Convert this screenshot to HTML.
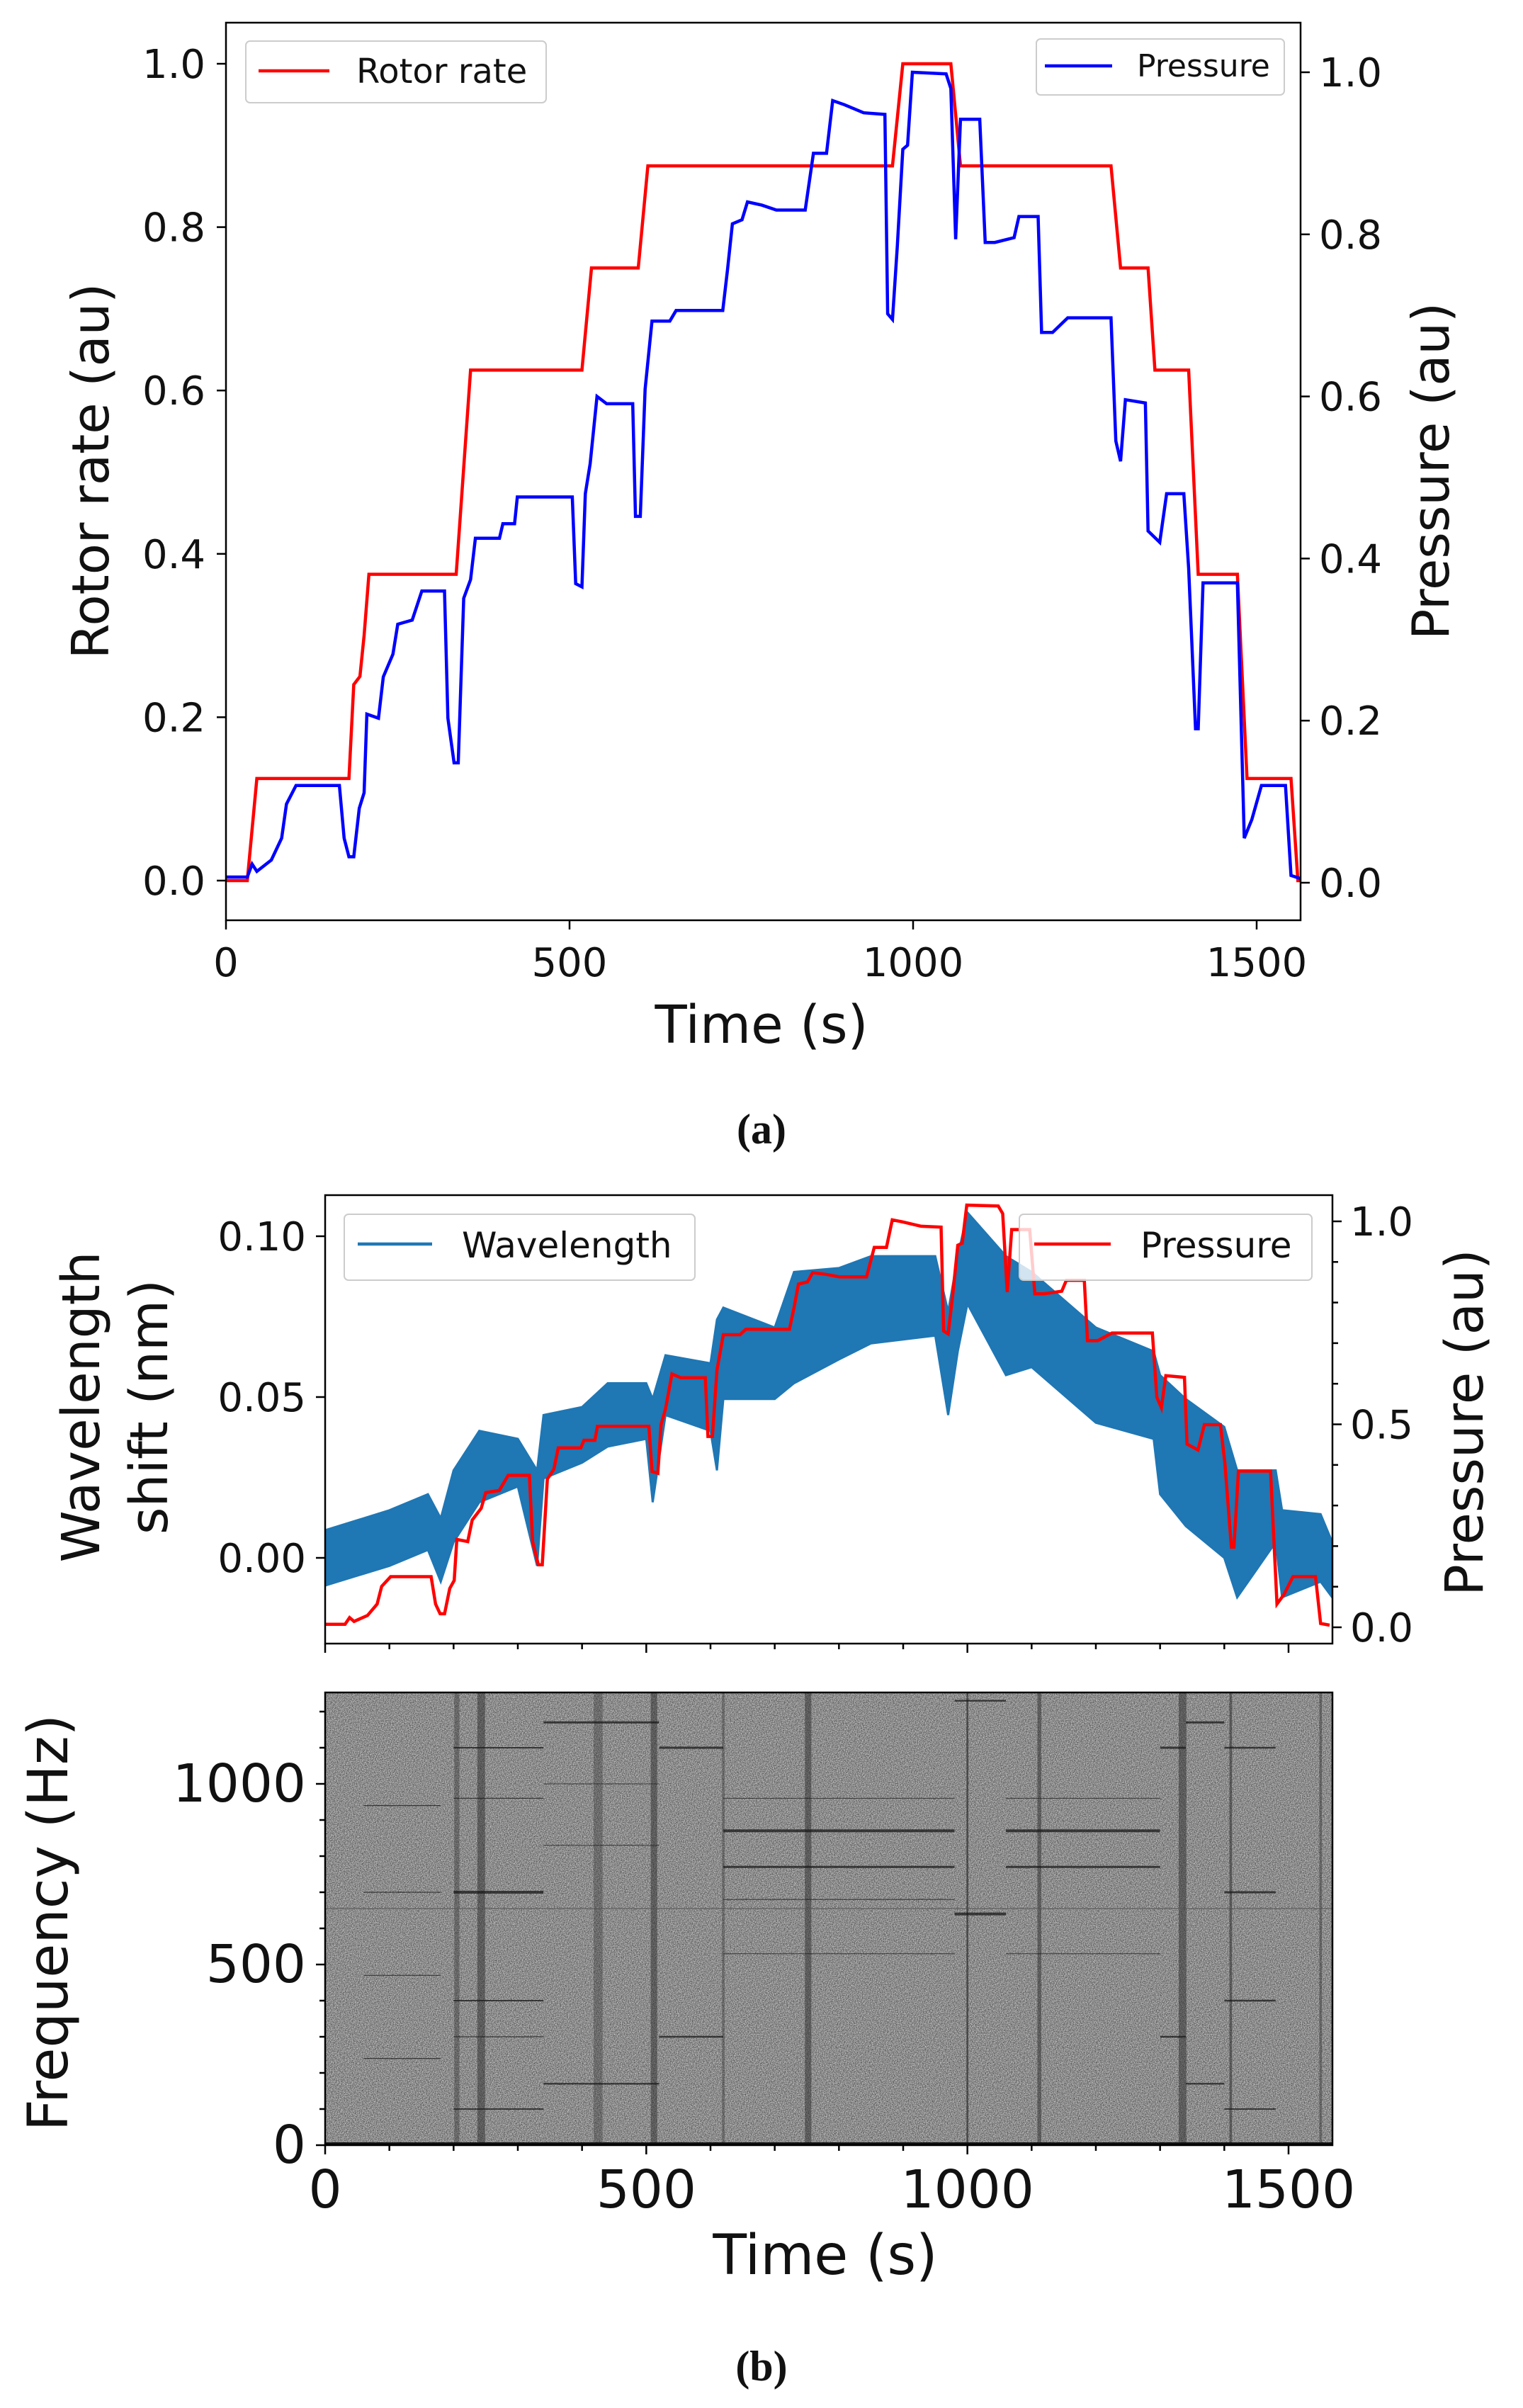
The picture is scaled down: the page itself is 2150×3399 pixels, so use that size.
<!DOCTYPE html>
<html><head><meta charset="utf-8"><style>
html,body{margin:0;padding:0;background:#fff}
svg{display:block}
text{font-family:"DejaVu Sans","Liberation Sans",sans-serif;fill:#111}
.cap{font-family:"Liberation Serif",serif;font-weight:bold}
</style></head><body>
<svg id="fig" width="2150" height="3399" viewBox="0 0 2150 3399" xmlns="http://www.w3.org/2000/svg">
<defs>
<filter id="noise" x="0" y="0" width="100%" height="100%" color-interpolation-filters="sRGB">
<feTurbulence type="fractalNoise" baseFrequency="0.8" numOctaves="2" seed="3"/>
<feColorMatrix type="matrix" values="0.9 0 0 0 0.1  0.9 0 0 0 0.1  0.9 0 0 0 0.1  0 0 0 0 1"/>
</filter>
<clipPath id="clipA"><rect x="319" y="32" width="1517" height="1267"/></clipPath>
<clipPath id="clipB"><rect x="459" y="1687" width="1422" height="633"/></clipPath>
<clipPath id="clipS"><rect x="459" y="2389" width="1422" height="639"/></clipPath>
</defs>
<g id="panelA"></g>
<g id="panelB"></g>
<g id="panelS"></g>
</svg>
<script>
// ---- data ----
const rotorT = [0,31,45,179,186,195,201,208,335,356,518,532,600,614,970,985,1055,1069,1288,1302,1342,1352,1401,1415,1472,1486,1550,1560,1564];
const rotorV = [0,0,0.125,0.125,0.24,0.25,0.3,0.375,0.375,0.625,0.625,0.75,0.75,0.875,0.875,1.0,1.0,0.875,0.875,0.75,0.75,0.625,0.625,0.375,0.375,0.125,0.125,0,0];
const pressT = [0,31,38,45,66,81,88,102,165,172,179,186,194,201,205,222,229,243,250,271,278,285,318,323,332,338,346,356,363,398,403,420,424,504,509,518,523,530,540,554,592,596,603,610,620,646,655,723,730,737,751,759,780,801,843,855,874,883,900,928,959,963,970,977,985,992,999,1048,1055,1062,1069,1097,1105,1119,1147,1154,1182,1187,1203,1225,1288,1295,1302,1309,1338,1342,1359,1369,1394,1401,1411,1415,1422,1472,1482,1493,1507,1542,1550,1564];
const pressV = [0.007,0.007,0.023,0.014,0.028,0.055,0.097,0.12,0.12,0.055,0.032,0.032,0.092,0.111,0.208,0.203,0.254,0.282,0.319,0.324,0.342,0.36,0.36,0.203,0.148,0.148,0.351,0.374,0.425,0.425,0.443,0.443,0.476,0.476,0.369,0.365,0.48,0.517,0.6,0.591,0.591,0.452,0.452,0.609,0.693,0.693,0.706,0.706,0.757,0.813,0.818,0.84,0.836,0.83,0.83,0.9,0.9,0.965,0.96,0.95,0.948,0.702,0.695,0.785,0.905,0.91,1.0,0.998,0.98,0.794,0.942,0.942,0.79,0.79,0.796,0.822,0.822,0.679,0.679,0.697,0.697,0.545,0.52,0.596,0.592,0.434,0.42,0.48,0.48,0.388,0.19,0.19,0.37,0.37,0.055,0.078,0.12,0.12,0.009,0.005];
const wlT = [0,100,160,180,200,240,300,330,340,400,440,500,510,530,600,610,620,700,730,800,850,950,970,985,1000,1060,1100,1200,1290,1300,1340,1400,1420,1480,1490,1550,1568];
const wlUp = [0.0086,0.0148,0.0198,0.0123,0.0272,0.0395,0.037,0.0272,0.0444,0.0469,0.0543,0.0543,0.0494,0.063,0.0605,0.0741,0.0778,0.0716,0.0889,0.0901,0.0938,0.0938,0.0765,0.0938,0.1074,0.0938,0.0889,0.0716,0.0642,0.0568,0.0494,0.0407,0.0272,0.0272,0.0148,0.0136,0.0049];
const wlLo = [-0.0086,-0.0025,0.0025,-0.0074,0.0049,0.0173,0.0222,-0.0025,0.0247,0.0296,0.0346,0.037,0.0173,0.0444,0.0395,0.0272,0.0494,0.0494,0.0543,0.0617,0.0667,0.0691,0.0444,0.0642,0.079,0.0568,0.0593,0.042,0.037,0.0198,0.0099,0,-0.0123,0.0049,-0.0123,-0.0074,-0.0123];
// spectrogram line segments: start time, end time, frequency (Hz)
const segT0 = [200,200,200,200,200,200,340,340,520,520,620,620,620,980,980,1060,1060,1300,1300,1340,1340,1400,1400,1400,1400,60,60,60,60,340,340,620,620,1060,1060];
const segT1 = [340,340,340,340,340,340,520,520,620,620,980,980,980,1060,1060,1300,1300,1340,1340,1400,1400,1480,1480,1480,1480,180,180,180,180,520,520,980,980,1300,1300];
const segF  = [1100,700,400,100,300,960,1170,170,1100,300,870,770,680,640,1230,870,770,1100,300,1170,170,700,400,100,1100,940,700,470,240,1000,830,960,530,960,530];
const segW  = [1,2,1,1,0.6,0.6,1.5,1.2,1.5,1.2,2,1.5,0.6,2,1.2,2,1.5,1.5,1.2,1.5,1.2,1.5,1.2,1,1.2,0.6,0.6,0.6,0.6,0.5,0.5,0.5,0.5,0.5,0.5];
const bandT = [205,243,425,512,620,752,1000,1112,1335,1410,1550];
const bandW = [8,12,14,10,4,10,3,6,12,4,4];
const bandO = [0.35,0.45,0.3,0.45,0.35,0.45,0.6,0.45,0.45,0.5,0.4];
const xTicks = [0,500,1000,1500];
const aYTicks = [0,0.2,0.4,0.6,0.8,1.0];
const bYTicks = [0,0.05,0.10];
const bYLabels = ["0.00","0.05","0.10"];
const bRTicks = [0,0.5,1.0];
const sYTicks = [0,500,1000];

const NS="http://www.w3.org/2000/svg";
function mk(tag,parent,attrs,txt){const e=document.createElementNS(NS,tag);for(const k in attrs)e.setAttribute(k,attrs[k]);if(txt!==undefined)e.textContent=txt;parent.appendChild(e);return e;}
function lin(d0,d1,r0,r1){return v=>r0+(v-d0)*(r1-r0)/(d1-d0);}
function path(xs,ys,sx,sy){return xs.map((t,i)=>(i?'L':'M')+sx(t).toFixed(1)+' '+sy(ys[i]).toFixed(1)).join(' ');}

// ---- Panel A ----
const A=document.getElementById('panelA');
const ax=lin(0,1500,319,1774), ayL=lin(0,1,1243,90), ayR=lin(0,1,1246,102);
let e;
e=mk('path',A,{d:path(rotorT,rotorV,ax,ayL),fill:'none',stroke:'#ff0000','stroke-width':4.5,'clip-path':'url(#clipA)'});

e=mk('path',A,{d:path(pressT,pressV,ax,ayR),fill:'none',stroke:'#0000ff','stroke-width':4.5,'clip-path':'url(#clipA)'});

e=mk('rect',A,{x:319,y:32,width:1517,height:1267,fill:'none',stroke:'#000','stroke-width':2.5});

xTicks.forEach(t=>{const x=ax(t);mk('line',A,{x1:x,x2:x,y1:1299,y2:1312,stroke:'#000','stroke-width':2.5});
 e=mk('text',A,{x:x,y:1378,'font-size':56,'text-anchor':'middle'},String(t));});
aYTicks.forEach(v=>{const y=ayL(v);mk('line',A,{x1:306,x2:319,y1:y,y2:y,stroke:'#000','stroke-width':2.5});
 e=mk('text',A,{x:290,y:y+20,'font-size':56,'text-anchor':'end'},v.toFixed(1));
 const yr=ayR(v);mk('line',A,{x1:1836,x2:1849,y1:yr,y2:yr,stroke:'#000','stroke-width':2.5});
 e=mk('text',A,{x:1862,y:yr+20,'font-size':56},v.toFixed(1));});
e=mk('text',A,{x:0,y:0,'font-size':72,'text-anchor':'middle',transform:'translate(153,665) rotate(-90)'},'Rotor rate (au)');
e=mk('text',A,{x:0,y:0,'font-size':72,'text-anchor':'middle',transform:'translate(2045,665) rotate(-90)'},'Pressure (au)');
e=mk('text',A,{x:1075,y:1472,'font-size':74,'text-anchor':'middle'},'Time (s)');
e=mk('text',A,{x:1075,y:1614,'font-size':60,'text-anchor':'middle','class':'cap'},'(a)');
// legends
let lg=mk('g',A,{});
mk('rect',lg,{x:347,y:58,width:424,height:87,rx:6,fill:'#fff',stroke:'#ccc','stroke-width':2});
mk('line',lg,{x1:365,x2:465,y1:100,y2:100,stroke:'#ff0000','stroke-width':4.5});
mk('text',lg,{x:503,y:117,'font-size':48},'Rotor rate');
lg=mk('g',A,{});
mk('rect',lg,{x:1463,y:55,width:350,height:79,rx:6,fill:'#fff',stroke:'#ccc','stroke-width':2});
mk('line',lg,{x1:1475,x2:1570,y1:93,y2:93,stroke:'#0000ff','stroke-width':4.5});
mk('text',lg,{x:1605,y:108,'font-size':44},'Pressure');

// ---- Panel B top ----
const B=document.getElementById('panelB');
const bx=lin(0,1500,459,1819), byL=lin(0,0.1,2199,1745), byR=lin(0,1,2297,1724);
const upPts=wlT.map((t,i)=>bx(t).toFixed(1)+','+byL(wlUp[i]).toFixed(1));
const loPts=wlT.map((t,i)=>bx(t).toFixed(1)+','+byL(wlLo[i]).toFixed(1)).reverse();
e=mk('polygon',B,{points:upPts.concat(loPts).join(' '),fill:'#1f77b4',stroke:'#1f77b4','stroke-width':3,'clip-path':'url(#clipB)'});

e=mk('path',B,{d:path(pressT,pressV.map(v=>v*1.04),bx,byR),fill:'none',stroke:'#ff0000','stroke-width':4.5,'clip-path':'url(#clipB)'});

e=mk('rect',B,{x:459,y:1687,width:1422,height:633,fill:'none',stroke:'#000','stroke-width':2.5});

for(let t=0;t<=1500;t+=100){const x=bx(t),maj=t%500===0;mk('line',B,{x1:x,x2:x,y1:2320,y2:2320+(maj?13:8),stroke:'#000','stroke-width':2.5});}
bYTicks.forEach((v,i)=>{const y=byL(v);mk('line',B,{x1:446,x2:459,y1:y,y2:y,stroke:'#000','stroke-width':2.5});
 e=mk('text',B,{x:432,y:y+20,'font-size':56,'text-anchor':'end'},bYLabels[i]);});
for(let v=0;v<=1.0001;v+=0.1){const y=byR(v),maj=Math.abs(v*2-Math.round(v*2))<1e-6;mk('line',B,{x1:1881,x2:1881+(maj?13:8),y1:y,y2:y,stroke:'#000','stroke-width':2.5});}
bRTicks.forEach(v=>{const y=byR(v);e=mk('text',B,{x:1906,y:y+20,'font-size':56},v.toFixed(1));});
e=mk('text',B,{x:0,y:0,'font-size':74,'text-anchor':'middle',transform:'translate(140,1986) rotate(-90)'},'Wavelength');
e=mk('text',B,{x:0,y:0,'font-size':74,'text-anchor':'middle',transform:'translate(236,1986) rotate(-90)'},'shift (nm)');
e=mk('text',B,{x:0,y:0,'font-size':74,'text-anchor':'middle',transform:'translate(2093,2008) rotate(-90)'},'Pressure (au)');
lg=mk('g',B,{});
mk('rect',lg,{x:486,y:1714,width:495,height:93,rx:6,fill:'#fff','fill-opacity':0.85,stroke:'#ccc','stroke-width':2});
mk('line',lg,{x1:505,x2:610,y1:1756,y2:1756,stroke:'#1f77b4','stroke-width':4.5});
mk('text',lg,{x:652,y:1775,'font-size':50},'Wavelength');
lg=mk('g',B,{});
mk('rect',lg,{x:1439,y:1714,width:413,height:93,rx:6,fill:'#fff','fill-opacity':0.8,stroke:'#ccc','stroke-width':2});
mk('line',lg,{x1:1460,x2:1568,y1:1756,y2:1756,stroke:'#ff0000','stroke-width':4.5});
mk('text',lg,{x:1610,y:1775,'font-size':50},'Pressure');

// ---- Spectrogram ----
const S=document.getElementById('panelS');
const sx=lin(0,1500,459,1819), sy=lin(0,1000,3028,2518);
e=mk('rect',S,{x:459,y:2389,width:1422,height:639,fill:'#909090'});
mk('rect',S,{x:459,y:2389,width:1422,height:639,filter:'url(#noise)'});
bandT.forEach((t,i)=>{e=mk('rect',S,{x:sx(t-bandW[i]/2),y:2389,width:sx(bandW[i])-sx(0),height:639,fill:'#222','fill-opacity':bandO[i]});});
mk('line',S,{x1:459,x2:1881,y1:sy(655),y2:sy(655),stroke:'#555','stroke-width':1.5,'stroke-opacity':0.7});
segT0.forEach((t0,i)=>{e=mk('line',S,{x1:sx(t0),x2:sx(segT1[i]),y1:sy(segF[i]),y2:sy(segF[i]),stroke:'#1a1a1a','stroke-width':2*segW[i],'stroke-opacity':0.75,'clip-path':'url(#clipS)'});});
mk('line',S,{x1:459,x2:1881,y1:3026,y2:3026,stroke:'#111','stroke-width':4});
e=mk('rect',S,{x:459,y:2389,width:1422,height:639,fill:'none',stroke:'#000','stroke-width':2.5});
for(let t=0;t<=1500;t+=100){const x=sx(t),maj=t%500===0;mk('line',S,{x1:x,x2:x,y1:3028,y2:3028+(maj?13:8),stroke:'#000','stroke-width':2.5});}
for(let f=0;f<=1200;f+=100){const y=sy(f),maj=f%500===0;mk('line',S,{x1:459-(maj?13:8),x2:459,y1:y,y2:y,stroke:'#000','stroke-width':2.5});}
sYTicks.forEach(f=>{const y=sy(f);e=mk('text',S,{x:432,y:y+25,'font-size':74,'text-anchor':'end'},String(f));});
xTicks.forEach(t=>{e=mk('text',S,{x:sx(t),y:3116,'font-size':74,'text-anchor':'middle'},String(t));});
e=mk('text',S,{x:0,y:0,'font-size':78,'text-anchor':'middle',transform:'translate(95,2714) rotate(-90)'},'Frequency (Hz)');
e=mk('text',S,{x:1165,y:3210,'font-size':78,'text-anchor':'middle'},'Time (s)');
e=mk('text',S,{x:1075,y:3360,'font-size':60,'text-anchor':'middle','class':'cap'},'(b)');
</script>
</body></html>
